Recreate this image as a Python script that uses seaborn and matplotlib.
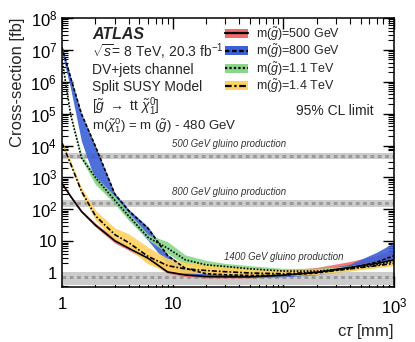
import numpy as np
import pandas as pd
import matplotlib
matplotlib.use("Agg")
import matplotlib.pyplot as plt
import seaborn as sns
from matplotlib.patches import Patch
from matplotlib.lines import Line2D
from matplotlib.ticker import LogLocator, NullFormatter

# c*tau grid [mm]
ctau = [1, 1.2, 1.5, 2, 3, 4, 6, 9, 13, 20, 30, 50, 100, 200, 400, 700, 1000]

# m(gluino) = 500 GeV
m500 = [650, 250, 85, 32, 10.3, 6.0, 2.9, 1.08, 0.87, 0.77, 0.76, 0.76, 0.85, 1.05, 1.5, 2.0, 2.6]
m500_lo = [600, 230, 78, 28, 8.7, 5.2, 2.3, 0.98, 0.77, 0.7, 0.7, 0.7, 0.78, 0.95, 1.3, 1.8, 2.2]
m500_hi = [720, 280, 95, 37, 12.5, 7.2, 4.0, 1.8, 1.4, 1.24, 1.15, 1.1, 1.2, 1.5, 2.3, 3.6, 5.0]

# m(gluino) = 800 GeV
m800 = [1.2e7, 1.3e6, 9.8e4, 9600, 300, 90, 25, 3.5, 1.4, 0.95, 0.88, 0.84, 0.86, 1.0, 1.4, 2.2, 3.5]
m800_lo = [8e6, 5.8e5, 1.35e4, 760, 152, 50, 10.5, 1.85, 0.95, 0.8, 0.76, 0.74, 0.76, 0.88, 1.2, 1.9, 3.0]
m800_hi = [1.3e7, 1.4e6, 1.0e5, 1.0e4, 320, 100, 28, 3.8, 1.6, 1.1, 1.0, 0.95, 1.0, 1.2, 1.9, 4.5, 9.0]

# m(gluino) = 1.1 TeV
m1100 = [5e6, 8.9e4, 4100, 1000, 190, 62, 13, 6.0, 2.6, 1.8, 1.6, 1.35, 1.15, 1.15, 1.4, 1.8, 2.3]
m1100_lo = [4.5e6, 8.0e4, 3700, 600, 150, 45, 11, 4.1, 1.8, 1.4, 1.25, 1.1, 1.0, 1.0, 1.2, 1.55, 1.9]
m1100_hi = [5.5e6, 1.0e5, 5500, 1100, 260, 80, 16, 9.6, 3.7, 2.5, 2.0, 1.7, 1.4, 1.4, 1.7, 2.2, 2.8]

# m(gluino) = 1.4 TeV
m1400 = [1.2e4, 2600, 365, 63, 16, 9, 3.3, 1.7, 1.35, 1.2, 1.1, 1.0, 0.95, 1.05, 1.35, 1.7, 2.0]
m1400_lo = [1.0e4, 2200, 300, 46, 11, 6, 1.9, 1.1, 1.0, 0.95, 0.9, 0.85, 0.82, 0.9, 1.15, 1.45, 1.7]
m1400_hi = [1.4e4, 3200, 480, 94, 26, 17, 6.5, 2.9, 2.2, 1.9, 1.6, 1.4, 1.25, 1.3, 1.6, 2.0, 2.4]

# gluino pair production cross-sections [fb]
gluino_labels = ["500 GeV gluino production", "800 GeV gluino production", "1400 GeV gluino production"]
gluino_xsec = [4700, 157, 0.75]
gluino_lo = [3800, 117, 0.43]
gluino_hi = [5800, 195, 1.07]

legend_labels = [r"m($\tilde{g}$)=500 GeV", r"m($\tilde{g}$)=800 GeV",
                 r"m($\tilde{g}$)=1.1 TeV", r"m($\tilde{g}$)=1.4 TeV"]

sns.set_theme(style="ticks")
plt.rcParams["font.family"] = ["Liberation Sans", "DejaVu Sans"]
plt.rcParams["mathtext.fontset"] = "custom"
plt.rcParams["mathtext.rm"] = "Liberation Sans"
plt.rcParams["mathtext.it"] = "Liberation Sans:italic"
plt.rcParams["mathtext.bf"] = "Liberation Sans:bold"

fig = plt.figure(figsize=(4.15, 3.42), dpi=100)
ax = fig.add_axes([62 / 415, 1 - 287 / 342, 332 / 415, 269 / 342])

# gluino cross-section bands
for xs, lo, hi in zip(gluino_xsec, gluino_lo, gluino_hi):
    ax.fill_between([1, 1000], [lo, lo], [hi, hi], color="#cccccc", lw=0, zorder=1)
    ax.plot([1, 1000], [xs, xs], color="#9a9a9a", ls=(0, (1.2, 1.2)), lw=2.2, zorder=1.5)

series = [
    (m500, m500_lo, m500_hi, "#f46a6a", "-"),
    (m800, m800_lo, m800_hi, "#3b60d8", (0, (2, 1.2))),
    (m1100, m1100_lo, m1100_hi, "#88d888", (0, (1, 1))),
    (m1400, m1400_lo, m1400_hi, "#ffd35e", (0, (3, 1.2, 1, 1.2))),
]

df = pd.DataFrame({"ctau": ctau})
handles = []
for i, (mid, lo, hi, col, ls) in enumerate(series):
    ax.fill_between(ctau, lo, hi, color=col, lw=0, alpha=0.9, zorder=2 + i * 0.1)
    df["y"] = mid
    sns.lineplot(data=df, x="ctau", y="y", ax=ax, color="black", lw=1.2,
                 linestyle=ls, zorder=3, estimator=None)
    handles.append((Patch(facecolor=col, edgecolor="none"),
                    Line2D([], [], color="black", lw=1.6, linestyle=ls)))

ax.set_xscale("log")
ax.set_yscale("log")
ax.set_xlim(1, 1000)
ax.set_ylim(0.364, 1e8)

ax.set_xticks([1, 10, 100, 1000], ["1", "10", r"$10^2$", r"$10^3$"])
ax.set_yticks([1, 10, 1e2, 1e3, 1e4, 1e5, 1e6, 1e7, 1e8],
              ["1", "10", r"$10^2$", r"$10^3$", r"$10^4$", r"$10^5$", r"$10^6$", r"$10^7$", r"$10^8$"])
ax.xaxis.set_minor_locator(LogLocator(base=10, subs=np.arange(2, 10)))
ax.yaxis.set_minor_locator(LogLocator(base=10, subs=np.arange(2, 10), numticks=20))
ax.xaxis.set_minor_formatter(NullFormatter())
ax.yaxis.set_minor_formatter(NullFormatter())
ax.tick_params(which="both", direction="in", top=True, right=True, labelsize=12, colors="black")
ax.tick_params(which="major", length=8, width=1)
ax.tick_params(which="minor", length=4, width=0.8)
ax.tick_params(axis="x", pad=7)
for sp in ax.spines.values():
    sp.set_linewidth(1.1)
    sp.set_color("black")

ax.set_xlabel(r"c$\tau$ [mm]", fontsize=12, loc="right")
ax.set_ylabel("Cross-section [fb]", fontsize=12, loc="top")

# gluino production labels
ax.text(9.9, 1.1e4, gluino_labels[0], fontsize=6.9, style="italic", color="#333333", va="center")
ax.text(9.9, 350, gluino_labels[1], fontsize=6.9, style="italic", color="#333333", va="center")
ax.text(29, 3.1, gluino_labels[2], fontsize=6.9, style="italic", color="#333333", va="center")

# ATLAS labels
tx = 0.09
ax.text(tx, 0.937, "ATLAS", transform=ax.transAxes, fontsize=11.5, weight="bold", style="italic", va="center")
ax.text(tx, 0.875, r"$\sqrt{s}$= 8 TeV, 20.3 fb$^{-1}$", transform=ax.transAxes, fontsize=10, va="center")
ax.text(tx, 0.807, "DV+jets channel", transform=ax.transAxes, fontsize=10, va="center")
ax.text(tx, 0.745, "Split SUSY Model", transform=ax.transAxes, fontsize=10, va="center")
ax.text(tx, 0.672, r"[$\tilde{g}$ $\rightarrow$ tt $\tilde{\chi}^{0}_{1}$]", transform=ax.transAxes, fontsize=10, va="center")
ax.text(tx, 0.600, r"m($\tilde{\chi}^{0}_{1}$) = m ($\tilde{g}$) - 480 GeV", transform=ax.transAxes, fontsize=9.5, va="center")
ax.text(0.94, 0.655, "95% CL limit", transform=ax.transAxes, fontsize=10, ha="right", va="center")

ax.legend(handles, legend_labels, loc="upper left", bbox_to_anchor=(0.46, 1.01), frameon=False,
          fontsize=9, handlelength=1.9, handleheight=0.7, handletextpad=0.6,
          labelspacing=0.0, borderpad=0.3)

fig.savefig("out.png", dpi=100)
